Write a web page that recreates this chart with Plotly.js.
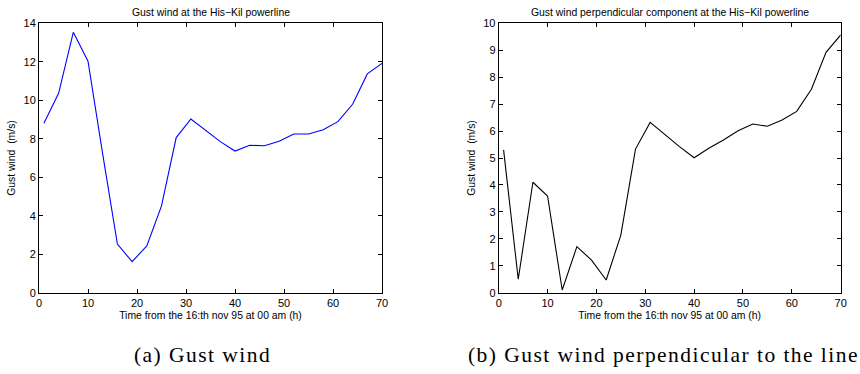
<!DOCTYPE html>
<html>
<head>
<meta charset="utf-8">
<script src="https://cdn.plot.ly/plotly-3.0.1.min.js"></script>
<style>
  html, body { margin: 0; padding: 0; background: #fff; }
  #chart { width: 860px; height: 374px; }
</style>
</head>
<body>
<div id="chart"></div>
<script>
// Hours from 16th Nov 95, 00 am
const hours = [1, 4, 7, 10, 13, 16, 19, 22, 25, 28, 31, 34, 37, 40, 43, 46, 49, 52, 55, 58, 61, 64, 67, 70];
// (a) gust wind (m/s)
const gustWind = [8.80, 10.36, 13.53, 12.03, 7.2, 2.53, 1.61, 2.43, 4.51, 8.06, 9.03, 8.45, 7.85, 7.36, 7.66, 7.64, 7.87, 8.25, 8.25, 8.47, 8.89, 9.79, 11.37, 11.92];
// (b) gust wind perpendicular component (m/s)
const gustPerp = [5.30, 0.50, 4.10, 3.59, 0.10, 1.71, 1.21, 0.47, 2.14, 5.33, 6.32, 5.87, 5.42, 5.01, 5.36, 5.67, 6.01, 6.26, 6.18, 6.41, 6.73, 7.55, 8.92, 9.57];

const titleA = "Gust wind at the His\u2212Kil powerline";
const titleB = "Gust wind perpendicular component at the His\u2212Kil powerline";
const xLabel = "Time from the 16:th nov 95 at 00 am (h)";
const yLabel = "Gust wind  (m/s)";
const captionA = "(a) Gust wind";
const captionB = "(b) Gust wind perpendicular to the line";

const W = 860, H = 374;
const tickFont = { family: "Liberation Sans, Arial, sans-serif", size: 11, color: "#000" };
const txtFont = { family: "Liberation Sans, Arial, sans-serif", size: 10.4, color: "#000" };

function xAxis(domain, anchor) {
  return {
    domain: domain, anchor: anchor, range: [0, 70], tick0: 0, dtick: 10,
    ticks: "inside", ticklen: 4, tickwidth: 1, tickcolor: "#000",
    showline: true, linecolor: "#000", linewidth: 1, mirror: "ticks",
    showgrid: false, zeroline: false, tickfont: tickFont,
    title: { text: xLabel, font: txtFont, standoff: 3 }
  };
}
function yAxis(domain, anchor, max, dt) {
  return {
    domain: domain, anchor: anchor, range: [0, max], tick0: 0, dtick: dt,
    ticks: "inside", ticklen: 4, tickwidth: 1, tickcolor: "#000",
    showline: true, linecolor: "#000", linewidth: 1, mirror: "ticks",
    showgrid: false, zeroline: false, tickfont: tickFont,
    title: { text: yLabel, font: txtFont, standoff: 5 }
  };
}

const yDom = [1 - 292.7 / H, 1 - 23.3 / H];
const xDomA = [39 / W, 382 / W];
const xDomB = [498.7 / W, 840.7 / W];

const traces = [
  { x: hours, y: gustWind, type: "scatter", mode: "lines", xaxis: "x", yaxis: "y",
    line: { color: "#0000ff", width: 1.1 }, showlegend: false },
  { x: hours, y: gustPerp, type: "scatter", mode: "lines", xaxis: "x2", yaxis: "y2",
    line: { color: "#000000", width: 1.1 }, showlegend: false }
];

const capFont = { family: "Liberation Serif, Times New Roman, serif", size: 21.5, color: "#000" };
function spaced(t) { return '<span style="letter-spacing:1.45px">' + t + '</span>'; }

const layout = {
  width: W, height: H,
  margin: { l: 0, r: 0, t: 0, b: 0 },
  paper_bgcolor: "#fff", plot_bgcolor: "#fff",
  xaxis: xAxis(xDomA, "y"),
  yaxis: yAxis(yDom, "x", 14, 2),
  xaxis2: xAxis(xDomB, "y2"),
  yaxis2: yAxis(yDom, "x2", 10, 1),
  annotations: [
    { text: titleA, x: (xDomA[0] + xDomA[1]) / 2, y: 1 - 12 / H, xref: "paper", yref: "paper",
      xanchor: "center", yanchor: "middle", showarrow: false, font: txtFont },
    { text: titleB, x: (xDomB[0] + xDomB[1]) / 2, y: 1 - 12 / H, xref: "paper", yref: "paper",
      xanchor: "center", yanchor: "middle", showarrow: false, font: txtFont },
    { text: spaced(captionA), x: 132 / W, y: 1 - 355 / H, xref: "paper", yref: "paper",
      xanchor: "left", yanchor: "middle", showarrow: false, font: capFont },
    { text: spaced(captionB), x: 466 / W, y: 1 - 355 / H, xref: "paper", yref: "paper",
      xanchor: "left", yanchor: "middle", showarrow: false, font: capFont }
  ]
};

Plotly.newPlot("chart", traces, layout, { staticPlot: true, displayModeBar: false });
</script>
</body>
</html>
